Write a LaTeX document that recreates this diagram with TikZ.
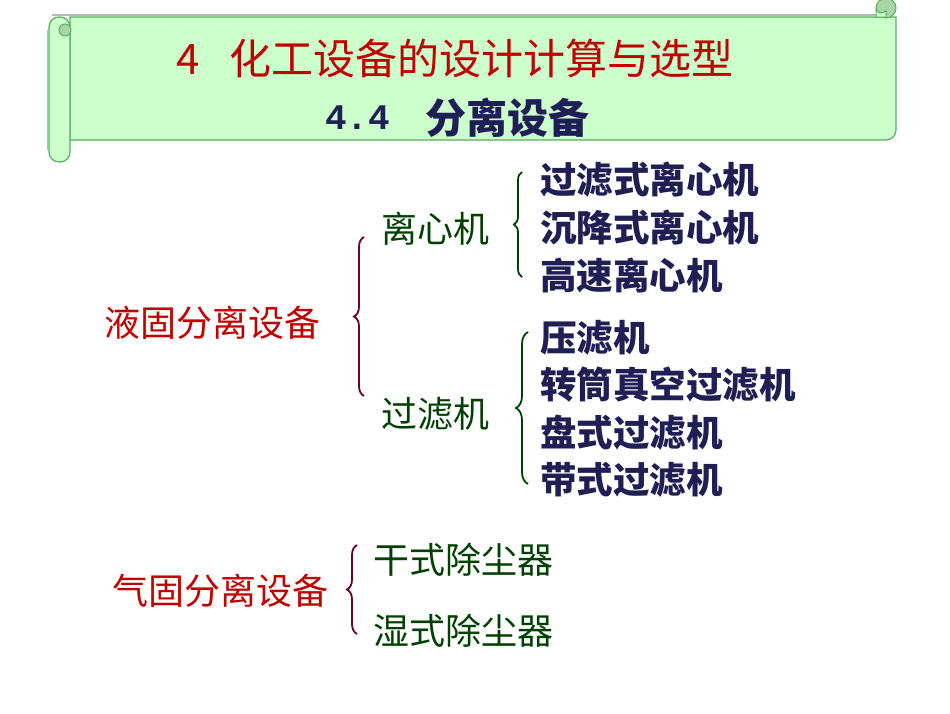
\documentclass[tikz,border=0pt]{standalone}
\usepackage{fontspec}
\newfontfamily\cjk{Noto Sans CJK SC}
\newfontfamily\monofont{Liberation Mono}
\usetikzlibrary{decorations.pathreplacing}
\definecolor{scrollFill}{HTML}{CCFFCC}
\definecolor{scrollLine}{HTML}{5AAE5A}
\definecolor{scrollCurl}{HTML}{A6D6A6}
\definecolor{titleRed}{HTML}{C00000}
\definecolor{itemNavy}{HTML}{1F1F55}
\definecolor{subGreen}{HTML}{004000}
\definecolor{bracePurple}{HTML}{660033}
\tikzstyle{titleText} = [anchor=west, inner sep=0pt, text=titleRed,
   font=\cjk\fontsize{42}{42}\selectfont]
\tikzstyle{secText} = [anchor=west, inner sep=0pt, text=itemNavy,
   font=\cjk\bfseries\fontsize{41}{41}\selectfont]
\tikzstyle{mainText} = [anchor=west, inner sep=0pt, text=titleRed,
   font=\cjk\fontsize{36}{36}\selectfont]
\tikzstyle{subText} = [anchor=west, inner sep=0pt, text=subGreen,
   font=\cjk\fontsize{36}{36}\selectfont]
\tikzstyle{itemText} = [anchor=west, inner sep=0pt, text=itemNavy,
   font=\cjk\bfseries\fontsize{36.5}{36.5}\selectfont]
\tikzstyle{outerBrace} = [decorate, decoration={brace, amplitude=10pt}, line width=1.8pt, bracePurple]
\tikzstyle{innerBrace} = [decorate, decoration={brace, amplitude=8pt}, line width=1.8pt, subGreen]

\begin{document}
\begin{tikzpicture}[x=1pt, y=-1pt]
  \useasboundingbox (0,0) rectangle (950,713);

  % scroll banner behind the title
  \draw[gray!55, line width=2pt] (52,15) -- (876,15);
  \draw[gray!55, line width=1.6pt] (47.5,30) -- (47.5,150);
  \draw[scrollLine, fill=scrollFill, line width=1.2pt] (70,17) -- (896,17) -- (896,130)
     arc[start angle=0, end angle=-90, radius=10pt] -- (70,140) -- cycle;
  \draw[scrollLine, fill=scrollFill, line width=1.2pt, rounded corners=10pt] (49,17) rectangle (70,162);
  \draw[scrollLine, fill=scrollCurl, line width=1pt] (65,30) circle[radius=6pt];
  \draw[scrollLine, fill=scrollCurl, line width=1pt] (886,8) circle[radius=10pt];
  \draw[scrollLine, fill=scrollFill, line width=1pt] (876,17) -- (876,9)
     .. controls (880,14) .. (886,11) -- (886,17) -- cycle;

  % title lines
  \node[titleText] (node_title) at (176,58) {4\hspace{0.72em}化工设备的设计计算与选型};
  \node[secText, font=\monofont\bfseries\fontsize{36}{36}\selectfont] (node_secnum) at (325,118) {4.4};
  \node[secText] (node_sec) at (425,118) {分离设备};

  % liquid-solid branch
  \node[mainText] (node_liquid) at (104,323) {液固分离设备};
  \node[subText] (node_centrifuge) at (381,229) {离心机};
  \node[subText] (node_filter) at (381,414) {过滤机};

  \node[itemText] (c1) at (540,180) {过滤式离心机};
  \node[itemText] (c2) at (540,227) {沉降式离心机};
  \node[itemText] (c3) at (540,275) {高速离心机};

  \node[itemText] (f1) at (540,338) {压滤机};
  \node[itemText] (f2) at (540,385) {转筒真空过滤机};
  \node[itemText] (f3) at (540,433) {盘式过滤机};
  \node[itemText] (f4) at (540,480) {带式过滤机};

  % gas-solid branch
  \node[mainText] (node_gas) at (112,591) {气固分离设备};
  \node[subText] (g1) at (373,560) {干式除尘器};
  \node[subText] (g2) at (373,631) {湿式除尘器};

  % brace ends
  \coordinate (b1_top) at (364,237);
  \coordinate (b1_bot) at (364,396);
  \coordinate (b2_top) at (522,172);
  \coordinate (b2_bot) at (522,277);
  \coordinate (b3_top) at (528,332);
  \coordinate (b3_bot) at (528,484);
  \coordinate (b4_top) at (357,545);
  \coordinate (b4_bot) at (357,634);

  \draw[outerBrace] (b1_bot) -- (b1_top);
  \draw[innerBrace] (b2_bot) -- (b2_top);
  \draw[innerBrace, decoration={brace, amplitude=12pt}] (b3_bot) -- (b3_top);
  \draw[outerBrace] (b4_bot) -- (b4_top);

\end{tikzpicture}
\end{document}
